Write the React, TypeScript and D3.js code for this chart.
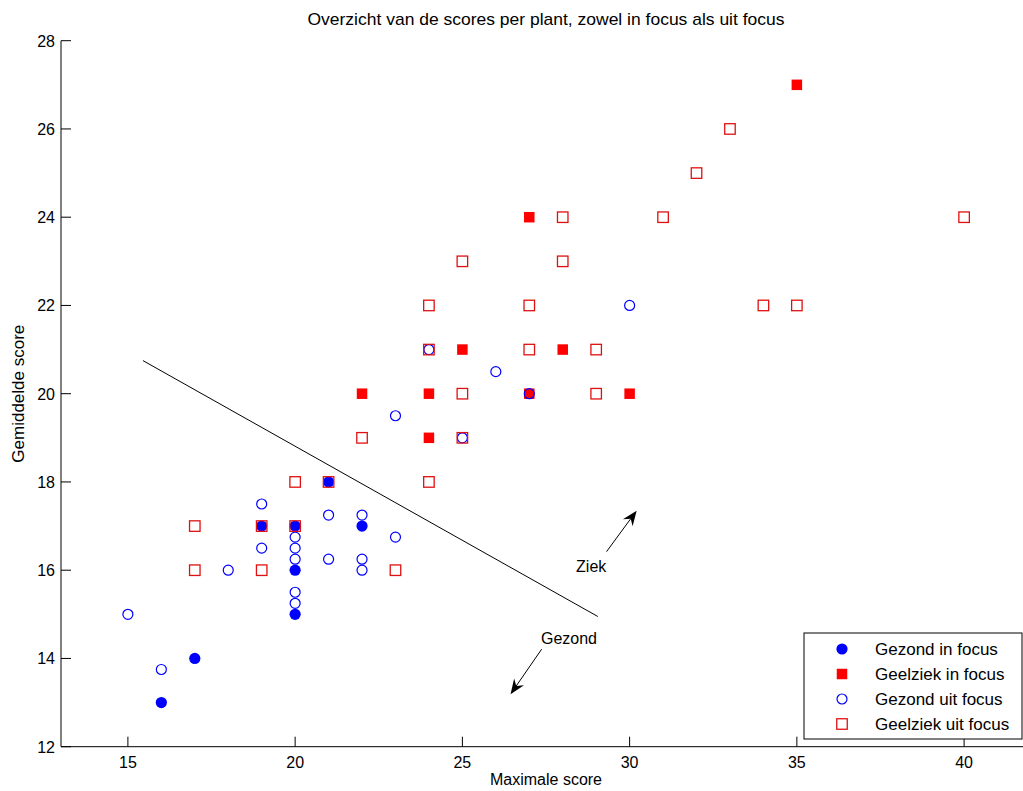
import React from "react";
import * as d3 from "d3";

type P = [number, number];

const gezondInFocus: P[] = [
  [16, 13], [17, 14], [19, 17], [20, 15], [20, 16], [20, 17], [21, 18], [22, 17],
];
const geelziekInFocus: P[] = [
  [35, 27], [27, 24], [25, 21], [28, 21], [22, 20], [24, 20], [27, 20], [30, 20], [24, 19],
];
const gezondUitFocus: P[] = [
  [15, 15], [16, 13.75], [18, 16], [19, 17.5], [19, 16.5], [20, 16.75], [20, 16.5],
  [20, 16.25], [20, 15.5], [20, 15.25], [21, 17.25], [21, 16.25], [22, 17.25],
  [22, 16.25], [22, 16], [23, 16.75], [23, 19.5], [24, 21], [25, 19], [26, 20.5],
  [27, 20], [30, 22],
];
const geelziekUitFocus: P[] = [
  [33, 26], [32, 25], [28, 24], [31, 24], [40, 24], [25, 23], [28, 23], [24, 22],
  [27, 22], [34, 22], [35, 22], [24, 21], [27, 21], [29, 21], [25, 20], [29, 20],
  [22, 19], [25, 19], [20, 18], [24, 18], [21, 18], [17, 17], [19, 17], [20, 17],
  [17, 16], [19, 16], [23, 16],
];

const xTicks = [15, 20, 25, 30, 35, 40];
const yTicks = [12, 14, 16, 18, 20, 22, 24, 26, 28];
const xDomain: [number, number] = [13, 42];
const yDomain: [number, number] = [12, 28];

const dividerLine: P[] = [[15.45, 20.75], [29.05, 14.95]];
const arrowZiek: P[] = [[29.31, 16.42], [30.21, 17.35]];
const arrowGezond: P[] = [[27.37, 14.21], [26.44, 13.19]];
const labelZiek: P = [28.4, 15.95];
const labelGezond: P = [27.35, 14.33];

const legendLabels = ["Gezond in focus", "Geelziek in focus", "Gezond uit focus", "Geelziek uit focus"];

const W = 1023;
const H = 791;
const FONT = "'Liberation Sans', Arial, sans-serif";
const BLUE = "#0000ff";
const RED = "#ff0000";
const RED_EDGE = "#e01010";

function Arrow({ from, to, x, y }: { from: P; to: P; x: d3.ScaleLinear<number, number>; y: d3.ScaleLinear<number, number> }) {
  const x1 = x(from[0]), y1 = y(from[1]), x2 = x(to[0]), y2 = y(to[1]);
  const ang = Math.atan2(y2 - y1, x2 - x1);
  const L = 15, Wd = 6, notch = 10;
  const ux = Math.cos(ang), uy = Math.sin(ang);
  const px = -uy, py = ux;
  const bx = x2 - ux * L, by = y2 - uy * L;
  const nx = x2 - ux * notch, ny = y2 - uy * notch;
  const d = `M${x2},${y2} L${bx + px * Wd},${by + py * Wd} L${nx},${ny} L${bx - px * Wd},${by - py * Wd} Z`;
  return (
    <g>
      <line x1={x1} y1={y1} x2={nx} y2={ny} stroke="#000" strokeWidth={1} />
      <path d={d} fill="#000" />
    </g>
  );
}

export default function App() {
  const x = d3.scaleLinear().domain(xDomain).range([61, 1031]);
  const y = d3.scaleLinear().domain(yDomain).range([746.7, 40.7]);
  const x0 = x(xDomain[0]);
  const y0 = y(yDomain[0]);
  const R = 5.6;
  const S = 10.5;
  const lineGen = d3.line<P>().x((d) => x(d[0])).y((d) => y(d[1]));

  const legX = 804, legY = 633, legW = 218, legH = 106;
  const legRows = [649, 674, 699, 724];

  return (
    <svg width={W} height={H} style={{ position: "absolute", left: 0, top: 0, background: "#fff" }} fontFamily={FONT}>
      <rect x={0} y={0} width={W} height={H} fill="#fff" />
      {/* title */}
      <text x={546} y={25} textAnchor="middle" fontSize={17} fill="#000" textLength={477} lengthAdjust="spacingAndGlyphs">
        Overzicht van de scores per plant, zowel in focus als uit focus
      </text>
      {/* axes */}
      <line x1={x0} y1={y(yDomain[1])} x2={x0} y2={y0} stroke="#000" strokeWidth={1} />
      <line x1={x0} y1={y0} x2={x(xDomain[1])} y2={y0} stroke="#000" strokeWidth={1} />
      {xTicks.map((t) => (
        <g key={"xt" + t}>
          <line x1={x(t)} y1={y0} x2={x(t)} y2={y0 - 10} stroke="#000" />
          <text x={x(t)} y={768} textAnchor="middle" fontSize={16}>{t}</text>
        </g>
      ))}
      {yTicks.map((t) => (
        <g key={"yt" + t}>
          <line x1={x0} y1={y(t)} x2={x0 + 10} y2={y(t)} stroke="#000" />
          <text x={55} y={y(t) + 6} textAnchor="end" fontSize={16}>{t}</text>
        </g>
      ))}
      <text x={546} y={785} textAnchor="middle" fontSize={16}>Maximale score</text>
      <text transform={`translate(24,${(y0 + y(yDomain[1])) / 2}) rotate(-90)`} textAnchor="middle" fontSize={17}>
        Gemiddelde score
      </text>

      {/* data */}
      {gezondInFocus.map((d, i) => (
        <circle key={"a" + i} cx={x(d[0])} cy={y(d[1])} r={R} fill={BLUE} />
      ))}
      {geelziekInFocus.map((d, i) => (
        <rect key={"b" + i} x={x(d[0]) - S / 2} y={y(d[1]) - S / 2} width={S} height={S} fill={RED} />
      ))}
      {gezondUitFocus.map((d, i) => (
        <circle key={"c" + i} cx={x(d[0])} cy={y(d[1])} r={5} fill="none" stroke={BLUE} strokeWidth={1.2} />
      ))}
      {geelziekUitFocus.map((d, i) => (
        <rect key={"d" + i} x={x(d[0]) - S / 2} y={y(d[1]) - S / 2} width={S} height={S} fill="none" stroke={RED_EDGE} strokeWidth={1.3} />
      ))}

      {/* annotations */}
      <path d={lineGen(dividerLine) || ""} stroke="#000" strokeWidth={1} fill="none" />
      <Arrow from={arrowZiek[0]} to={arrowZiek[1]} x={x} y={y} />
      <Arrow from={arrowGezond[0]} to={arrowGezond[1]} x={x} y={y} />
      <text x={x(labelZiek[0])} y={y(labelZiek[1])} fontSize={16}>Ziek</text>
      <text x={x(labelGezond[0])} y={y(labelGezond[1])} fontSize={16}>Gezond</text>

      {/* legend */}
      <rect x={legX} y={legY} width={legW} height={legH} fill="#fff" stroke="#000" strokeWidth={1} />
      <circle cx={842} cy={legRows[0]} r={R} fill={BLUE} />
      <rect x={842 - S / 2} y={legRows[1] - S / 2} width={S} height={S} fill={RED} />
      <circle cx={842} cy={legRows[2]} r={5} fill="none" stroke={BLUE} strokeWidth={1.2} />
      <rect x={842 - S / 2} y={legRows[3] - S / 2} width={S} height={S} fill="none" stroke={RED_EDGE} strokeWidth={1.3} />
      {legendLabels.map((l, i) => (
        <text key={l} x={875} y={legRows[i] + 6} fontSize={17}>{l}</text>
      ))}
    </svg>
  );
}
